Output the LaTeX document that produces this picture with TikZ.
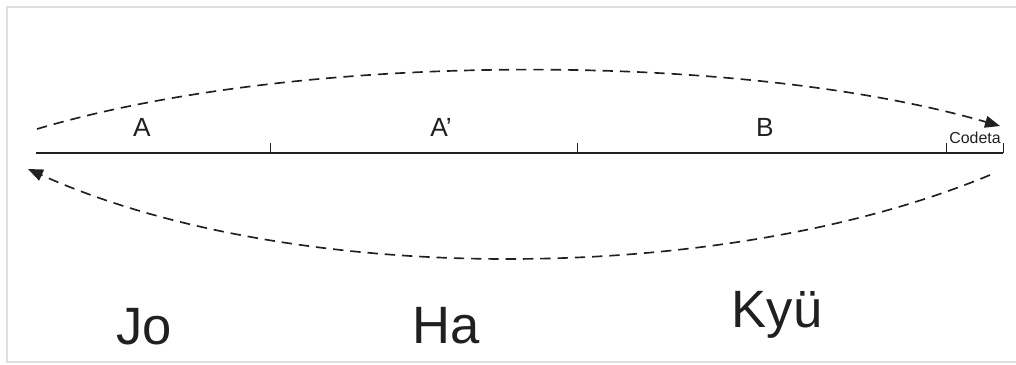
\documentclass[tikz,border=0pt]{standalone}
\usepackage{fontspec}
\setmainfont{Liberation Sans}
\usetikzlibrary{arrows.meta}
\definecolor{fgray}{RGB}{224,224,224}
\definecolor{ink}{RGB}{32,32,32}
\tikzset{
  sec/.style  ={anchor=base, inner sep=0pt, text=ink, font=\fontsize{19}{19}\selectfont},
  small/.style={anchor=base, inner sep=0pt, text=ink, font=\fontsize{11.5}{11.5}\selectfont},
  big/.style  ={anchor=base, inner sep=0pt, text=ink, font=\fontsize{38}{38}\selectfont},
  tl/.style   ={draw=ink, line width=0.9pt},
  tk/.style   ={draw=ink, line width=0.7pt},
  flow/.style ={draw=ink, line width=1.2pt, dash pattern=on 7.5pt off 5pt,
                -{Triangle[length=3.8mm,width=3mm]}}
}
\begin{document}
\begin{tikzpicture}[x=0.0254cm, y=-0.0254cm]
\useasboundingbox (0,0) rectangle (1016,364);
\draw[fgray, line width=0.8pt] (7,7) rectangle (1030,362);
% time line
\coordinate (ls) at (36,153);
\coordinate (le) at (1003,153);
\coordinate (t1) at (270,153);
\coordinate (t2) at (577,153);
\coordinate (t3) at (946,153);
\draw[tl] (ls) -- (le);
\foreach \t in {t1,t2,t3,le}
  \draw[tk] (\t) -- ++(0,-10);
% sections
\node[sec] (a) at (142,136) {A};
\node[sec] (aprime) at (441,136) {A'};
\node[sec] (b) at (765,136) {B};
\node[small] (codeta) at (975,143) {Codeta};
% jo-ha-kyu
\node[big] (jo) at (144,344) {Jo};
\node[big] (ha) at (446,343) {Ha};
\node[big] (kyu) at (777,327) {Kyü};
% arcs
\coordinate (fs) at (37,129);
\coordinate (fe) at (1000,126);
\coordinate (bs) at (990,175);
\coordinate (be) at (28,169);
\draw[flow] (fs) .. controls (300,51) and (740,51) .. (fe);
\draw[flow] (bs) .. controls (720,287) and (290,287) .. (be);
\end{tikzpicture}
\end{document}
